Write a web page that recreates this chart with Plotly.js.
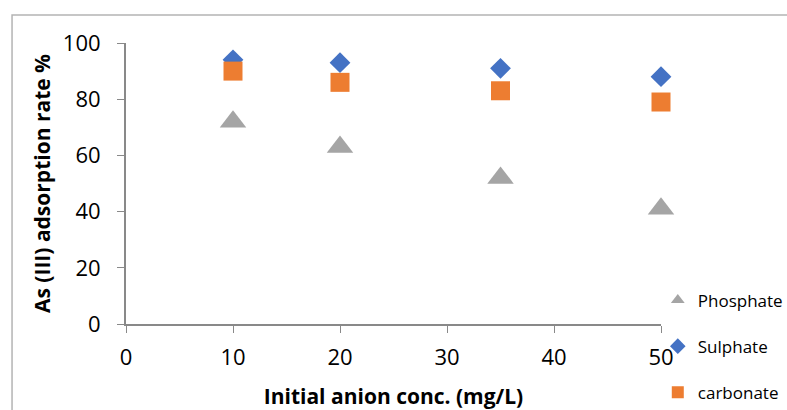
<!DOCTYPE html>
<html>
<head>
<meta charset="utf-8">
<script src="https://cdn.plot.ly/plotly-3.0.1.min.js"></script>
<style>
  html, body { margin: 0; padding: 0; background: #fff; }
  #chart { width: 787px; height: 410px; }
</style>
</head>
<body>
<div id="chart"></div>
<script>
// Anion concentration (mg/L)
const conc = [10, 20, 35, 50];
// As(III) adsorption rate (%) in presence of each anion
const phosphate = [72, 63, 52, 41];
const sulphate = [94, 93, 91, 88];
const carbonate = [90, 86, 83, 79];

const seriesNames = ['Phosphate', 'Sulphate', 'carbonate'];
const xTicks = [0, 10, 20, 30, 40, 50];
const yTicks = [0, 20, 40, 60, 80, 100];

const FONT = 'Open Sans, Liberation Sans, sans-serif';

const traces = [
  { x: conc, y: phosphate, name: seriesNames[0], legendgroup: 'a',
    marker: { symbol: 'triangle-up', size: 23, color: '#a5a5a5' } },
  { x: conc, y: sulphate, name: seriesNames[1], legendgroup: 'b',
    marker: { symbol: 'diamond', size: 16, color: '#4472c4' } },
  { x: conc, y: carbonate, name: seriesNames[2], legendgroup: 'c',
    marker: { symbol: 'square', size: 19, color: '#ed7d31' } }
].map(t => Object.assign({ type: 'scatter', mode: 'markers', cliponaxis: false }, t));

const layout = {
  width: 787, height: 410,
  margin: { l: 126, r: 126, t: 43, b: 86, autoexpand: false },
  paper_bgcolor: '#ffffff', plot_bgcolor: '#ffffff',
  font: { family: FONT, color: '#000' },
  showlegend: true,
  legend: {
    x: 0.994, xanchor: 'left', y: -0.08, yanchor: 'middle',
    traceorder: 'grouped', tracegroupgap: 21, itemsizing: 'constant',
    font: { size: 17, family: FONT, color: '#000' },
    itemwidth: 30, bgcolor: 'rgba(0,0,0,0)'
  },
  xaxis: {
    range: [0, 50], tickvals: xTicks, ticktext: xTicks.map(String),
    showgrid: false, zeroline: false, showline: true,
    linecolor: '#898989', linewidth: 2,
    ticks: 'outside', ticklen: 7, tickcolor: '#898989', tickwidth: 1,
    tickfont: { size: 22, family: FONT }, ticklabelstandoff: 6,
    title: { text: '<b>Initial anion conc. (mg/L)</b>', font: { size: 21, family: FONT }, standoff: 20 }
  },
  yaxis: {
    range: [0, 100], tickvals: yTicks, ticktext: yTicks.map(String),
    showgrid: false, zeroline: false, showline: true,
    linecolor: '#898989', linewidth: 2,
    ticks: 'outside', ticklen: 7, tickcolor: '#898989', tickwidth: 1,
    tickfont: { size: 22, family: FONT }, ticklabelstandoff: 12,
    title: { text: '<b>As (III) adsorption rate %</b>', font: { size: 21, family: FONT }, standoff: 6 }
  },
  shapes: [{
    type: 'rect', xref: 'paper', yref: 'paper',
    x0: -0.213, x1: 1.3, y0: -0.35, y1: 1.0996,
    line: { color: '#b4b4b4', width: 1.5 }, fillcolor: 'rgba(0,0,0,0)', layer: 'below'
  }]
};

Plotly.newPlot('chart', traces, layout, { displayModeBar: false, staticPlot: true });
</script>
</body>
</html>
